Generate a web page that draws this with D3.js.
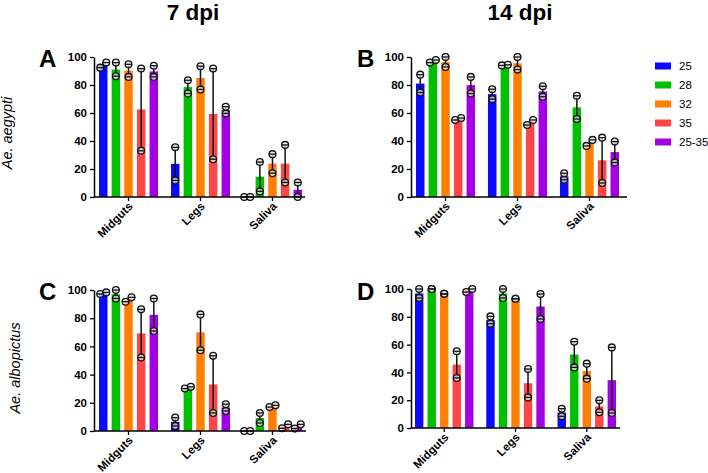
<!DOCTYPE html>
<html><head><meta charset="utf-8">
<script src="https://cdn.jsdelivr.net/npm/d3@7"></script>
<style>
body{margin:0;background:#fff;}
svg{display:block;font-family:Arial,"Liberation Sans",Helvetica,sans-serif;}
</style></head>
<body><svg id="chart" width="708" height="473"></svg>
<script>
const categories = ["Midguts", "Legs", "Saliva"];
const series = ["25", "28", "32", "35", "25-35"];
const seriesColors = ["#0a0aff", "#00c000", "#ff8000", "#ff4646", "#a400e4"];
const yTicks = [0, 20, 40, 60, 80, 100];
const columnTitles = ["7 dpi", "14 dpi"];
const rowLabels = ["Ae. aegypti", "Ae. albopictus"];

// rows = series (25, 28, 32, 35, 25-35); columns = categories (Midguts, Legs, Saliva)
// Panel A: 7 dpi, Ae. aegypti
const aMean = [[94, 23.7, 0], [91, 78.5, 14.5], [90.2, 85, 23.8], [62.5, 59.3, 23.8], [89.7, 62, 5.2]];
const aRep1 = [[96, 35.5, 0], [96, 83.4, 25], [94.8, 93.4, 30.6], [91.7, 91.7, 37.2], [93.8, 64.5, 10.4]];
const aRep2 = [[92.4, 11.8, 0], [86.3, 73.9, 4], [85.8, 76.8, 17], [33, 27, 10.4], [85.8, 59.7, 0]];
// Panel B: 14 dpi, Ae. aegypti
const bMean = [[81, 73.5, 14.7], [97, 94.2, 64], [96.4, 95.5, 38.6], [55.7, 53.2, 26.2], [79.9, 75.4, 32.1]];
const bRep1 = [[87.4, 77, 17], [97.8, 94.4, 72.3], [100, 100, 40.8], [56.4, 55, 42.4], [85.8, 79.1, 39.6]];
const bRep2 = [[74.6, 69.9, 12.3], [96, 94, 55.7], [92.9, 91, 36.5], [55, 51.4, 10], [73.9, 71.6, 24.6]];
// Panel C: 7 dpi, Ae. albopictus
const cMean = [[97.8, 6.5, 0], [97, 30.7, 9.2], [93.3, 70, 17.6], [69.2, 33, 3.3], [82.4, 16.6, 3.2]];
const cRep1 = [[98.3, 9.5, 0], [100, 31.3, 12.8], [94.8, 82.7, 18.2], [86.3, 53.3, 4.7], [94, 19, 4.7]];
const cRep2 = [[97.2, 3.6, 0], [94, 30.1, 5.7], [91.7, 57.3, 17], [52.1, 12.8, 1.9], [70.9, 14.2, 1.7]];
// Panel D: 14 dpi, Ae. albopictus
const dMean = [[96.8, 77.7, 11.2], [100, 96.8, 52.9], [96.5, 93, 40.9], [45.6, 32.2, 15.6], [98.9, 87.4, 34.4]];
const dRep1 = [[100, 80.3, 13.9], [100, 100, 62.1], [96.5, 93, 46.3], [55.2, 42.4, 19.9], [100, 96.4, 58]];
const dRep2 = [[93.5, 75, 8.4], [100, 93.5, 43.6], [96.5, 93, 35.5], [36, 22, 11.3], [97.8, 78.4, 10.8]];

const svg = d3.select("#chart");
const FONT = 'Arial,"Liberation Sans",Helvetica,sans-serif';

const panels = [
  {id: "A", mean: aMean, r1: aRep1, r2: aRep2, ax0: 94, ax1: 305, bx0: 99, bx1: 302, yTop: 57, yBot: 197, lx: 39, ly: 67},
  {id: "B", mean: bMean, r1: bRep1, r2: bRep2, ax0: 411, ax1: 627, bx0: 416, bx1: 619, yTop: 57, yBot: 197, lx: 357, ly: 67},
  {id: "C", mean: cMean, r1: cRep1, r2: cRep2, ax0: 94, ax1: 306, bx0: 99, bx1: 302, yTop: 290, yBot: 431, lx: 39, ly: 300},
  {id: "D", mean: dMean, r1: dRep1, r2: dRep2, ax0: 411, ax1: 620, bx0: 415, bx1: 616, yTop: 289, yBot: 428, lx: 357, ly: 300}
];

panels.forEach(p => {
  const g = svg.append("g");
  const x0 = d3.scaleBand().domain(categories).range([p.bx0, p.bx1]).paddingInner(0.18).paddingOuter(0);
  const x1 = d3.scaleBand().domain(series).range([0, x0.bandwidth()]).paddingInner(0.33).paddingOuter(0);
  const y = d3.scaleLinear().domain([0, 100]).range([p.yBot, p.yTop]);

  const rows = [];
  series.forEach((s, si) => categories.forEach((c, ci) => {
    rows.push({s, si, c, ci, m: p.mean[si][ci], a: p.r1[si][ci], b: p.r2[si][ci]});
  }));

  // bars
  g.selectAll("rect.bar").data(rows).join("rect")
    .attr("x", d => x0(d.c) + x1(d.s))
    .attr("width", x1.bandwidth())
    .attr("y", d => y(d.m))
    .attr("height", d => y(0) - y(d.m))
    .attr("fill", d => seriesColors[d.si]);

  const cx = d => x0(d.c) + x1(d.s) + x1.bandwidth() / 2;
  const capW = 3.6;

  // vertical error lines (range)
  g.selectAll("line.err").data(rows).join("line")
    .attr("x1", cx).attr("x2", cx)
    .attr("y1", d => y(Math.max(d.a, d.b))).attr("y2", d => y(Math.min(d.a, d.b)))
    .attr("stroke", "#111").attr("stroke-width", 1.5);

  // replicate points
  const pts = [];
  rows.forEach(d => {
    const dy = Math.abs(y(d.a) - y(d.b));
    const sep = (dy < 6.5 && dy > 0.5) || (d.a === 0 && d.b === 0);
    const lo = Math.min(d.a, d.b), hi = Math.max(d.a, d.b);
    pts.push({x: cx(d) - (sep ? 3 : 0), v: lo});
    pts.push({x: cx(d) + (sep ? 3 : 0), v: hi});
  });
  g.selectAll("circle.pt").data(pts).join("circle")
    .attr("cx", d => d.x).attr("cy", d => y(d.v)).attr("r", 3.4)
    .attr("fill", "rgba(235,235,235,0.75)").attr("stroke", "#111").attr("stroke-width", 1.3);
  g.selectAll("line.cap").data(pts).join("line")
    .attr("x1", d => d.x - capW).attr("x2", d => d.x + capW)
    .attr("y1", d => y(d.v)).attr("y2", d => y(d.v))
    .attr("stroke", "#111").attr("stroke-width", 1.3);

  // y axis
  const yAxis = d3.axisLeft(y).tickValues(yTicks).tickSize(4).tickPadding(3).tickSizeOuter(0);
  const ya = g.append("g").attr("transform", `translate(${p.ax0},0)`).call(yAxis);
  ya.select(".domain").attr("stroke", "#000").attr("stroke-width", 1.5);
  ya.selectAll(".tick line").attr("stroke", "#000").attr("stroke-width", 1.3);
  ya.selectAll(".tick text").attr("font-family", FONT).attr("font-size", 11.5).attr("font-weight", "bold").attr("fill", "#000");

  // x axis
  const xAxis = d3.axisBottom(x0).tickSize(4).tickSizeOuter(0);
  const xa = g.append("g").attr("transform", `translate(0,${p.yBot})`).call(xAxis);
  xa.select(".domain").attr("d", `M${p.ax0},0H${p.ax1}`).attr("stroke", "#000").attr("stroke-width", 1.5);
  xa.selectAll(".tick line").attr("stroke", "#000").attr("stroke-width", 1.3);
  xa.selectAll(".tick text")
    .attr("font-family", FONT).attr("font-size", 11.5).attr("font-weight", "bold").attr("fill", "#000")
    .attr("text-anchor", "end").attr("dy", "0")
    .attr("transform", "translate(5,10) rotate(-45)").attr("y", 0).attr("x", 0);

  // panel letter
  svg.append("text").attr("x", p.lx).attr("y", p.ly)
    .attr("font-family", FONT).attr("font-size", 24).attr("font-weight", "bold").text(p.id);
});

// column titles
svg.append("text").attr("x", 193).attr("y", 19.5).attr("text-anchor", "middle")
  .attr("font-family", FONT).attr("font-size", 22.5).attr("font-weight", "bold").text(columnTitles[0]);
svg.append("text").attr("x", 520).attr("y", 19.5).attr("text-anchor", "middle")
  .attr("font-family", FONT).attr("font-size", 22.5).attr("font-weight", "bold").text(columnTitles[1]);

// row labels
[[12, 133], [20, 368]].forEach((pos, i) => {
  svg.append("text").attr("transform", `translate(${pos[0]},${pos[1]}) rotate(-90)`)
    .attr("text-anchor", "middle").attr("font-family", FONT).attr("font-size", 14.5)
    .attr("font-style", "italic").text(rowLabels[i]);
});

// legend
const leg = svg.append("g");
const ly = d3.scalePoint().domain(series).range([66, 142]);
leg.selectAll("rect").data(series).join("rect")
  .attr("x", 655).attr("y", d => ly(d) - 3.5).attr("width", 16).attr("height", 7)
  .attr("fill", (d, i) => seriesColors[i]);
leg.selectAll("text").data(series).join("text")
  .attr("x", 679).attr("y", d => ly(d)).attr("dy", "0.36em")
  .attr("font-family", FONT).attr("font-size", 11.5).text(d => d);
</script></body></html>
